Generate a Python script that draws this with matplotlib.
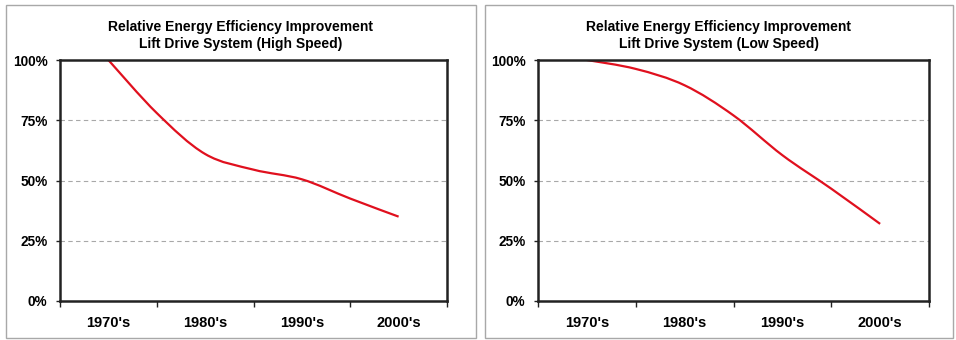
import matplotlib.pyplot as plt
from matplotlib.path import Path
from matplotlib.patches import PathPatch, Rectangle
from matplotlib.ticker import FuncFormatter

plt.rcParams['font.family'] = ['Liberation Sans', 'DejaVu Sans']

decades = ["1970's", "1980's", "1990's", "2000's"]
# values read at half-decade steps (category index 0, 0.5, 1 ... 3)
pos = [0, 0.5, 1, 1.5, 2, 2.5, 3]
high_speed = [100, 78, 61, 54.5, 50.5, 42.5, 35]
low_speed = [100, 96.3, 89.5, 77, 60.5, 46.6, 32]

titles = ["Relative Energy Efficiency Improvement\nLift Drive System (High Speed)",
          "Relative Energy Efficiency Improvement\nLift Drive System (Low Speed)"]


def smooth_path(xs, ys):
    # Excel-like smoothed line: catmull-rom segments as cubic bezier
    pts = list(zip(xs, ys))
    verts = [pts[0]]
    codes = [Path.MOVETO]
    n = len(pts)
    for i in range(n - 1):
        p0 = pts[i - 1] if i > 0 else pts[i]
        p1 = pts[i]
        p2 = pts[i + 1]
        p3 = pts[i + 2] if i + 2 < n else pts[i + 1]
        c1 = (p1[0] + (p2[0] - p0[0]) / 6, p1[1] + (p2[1] - p0[1]) / 6)
        c2 = (p2[0] - (p3[0] - p1[0]) / 6, p2[1] - (p3[1] - p1[1]) / 6)
        verts += [c1, c2, p2]
        codes += [Path.CURVE4] * 3
    return Path(verts, codes)


fig = plt.figure(figsize=(9.56, 3.40), dpi=100)
W, H = 956, 340

panels = [(6, 476, 60, 447), (485, 953, 538, 929)]

for k, (vals, title) in enumerate(zip([high_speed, low_speed], titles)):
    px0, px1, ax0, ax1 = panels[k]
    fig.patches.append(Rectangle((px0 / W, 2 / H), (px1 - px0) / W, (H - 7) / H,
                                 transform=fig.transFigure, fill=False,
                                 edgecolor='#a8a8a8', linewidth=1))
    ax = fig.add_axes([ax0 / W, 1 - 301 / H, (ax1 - ax0) / W, 241 / H])
    ax.add_patch(PathPatch(smooth_path(pos, vals), fill=False,
                           edgecolor='#e0101e', linewidth=1.6))
    ax.set_xlim(-0.5, 3.5)
    ax.set_ylim(0, 100)
    ax.set_yticks([0, 25, 50, 75, 100])
    ax.yaxis.set_major_formatter(FuncFormatter(lambda v, p: f"{v:.0f}%"))
    ax.set_xticks([-0.5, 0.5, 1.5, 2.5, 3.5])
    ax.set_xticklabels([])
    ax.set_xticks(range(4), minor=True)
    ax.set_xticklabels(decades, minor=True)
    ax.tick_params(axis='x', which='major', length=4, width=1, color='#222222')
    ax.tick_params(axis='x', which='minor', length=0, pad=11)
    ax.tick_params(axis='y', length=3, width=1, color='#222222', pad=6)
    for lab in ax.get_xticklabels(minor=True):
        lab.set_fontweight('bold')
        lab.set_fontsize(10.5)
    for lab in ax.get_yticklabels():
        lab.set_fontweight('bold')
        lab.set_fontsize(9.8)
    for y in [25, 50, 75]:
        ax.axhline(y, color='#a8a8a8', linestyle=(0, (4, 3)), linewidth=0.8, zorder=0)
    for s in ax.spines.values():
        s.set_linewidth(1.8)
        s.set_color('#222222')
    fig.text((px0 + px1) / 2 / W, 1 - 35.5 / H, title, ha='center', va='center',
             fontsize=10, fontweight='bold', linespacing=1.3)

fig.savefig("out.png", dpi=100)
